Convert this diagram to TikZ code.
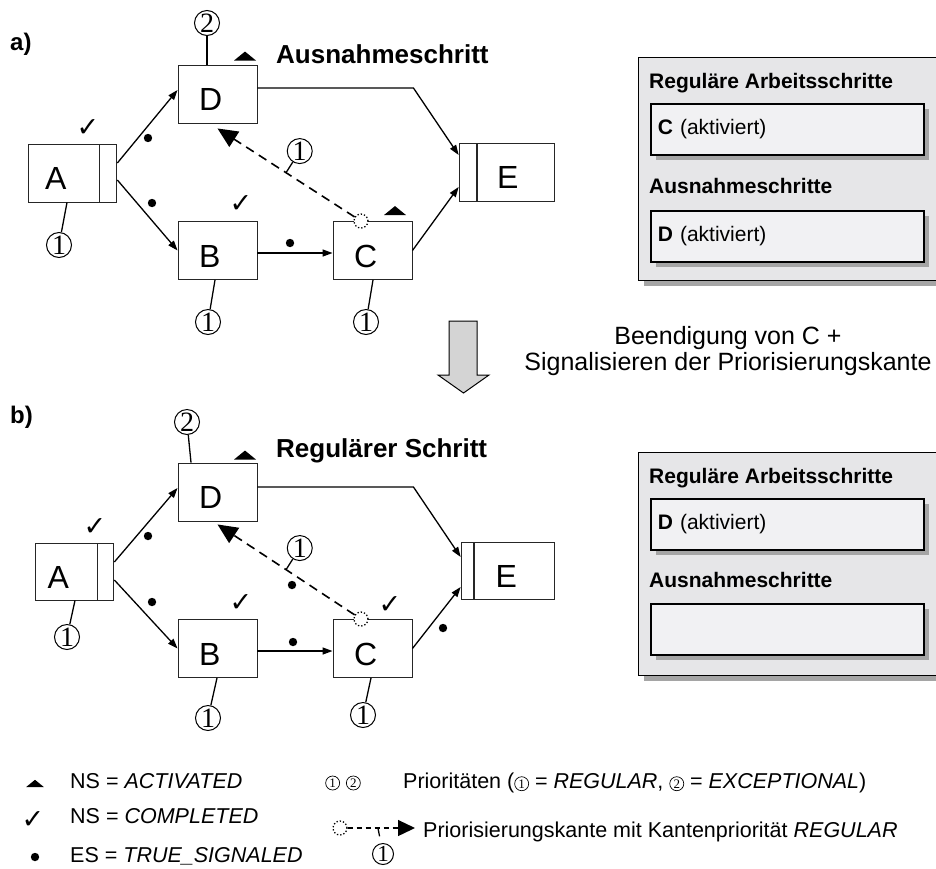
\documentclass[tikz,border=0pt]{standalone}
\usepackage{fontspec}
\setsansfont{Liberation Sans}
\newfontfamily\prioface{Liberation Serif}
\newfontfamily\symface{DejaVu Sans}
\usetikzlibrary{arrows.meta, calc, shadows}
\definecolor{panelbg}{RGB}{230,230,232}
\definecolor{slotbg}{RGB}{241,241,243}
\definecolor{shade}{RGB}{165,165,165}
\definecolor{arrowfill}{RGB}{212,212,212}
\newcommand{\fsz}[1]{\fontsize{#1}{#1}\selectfont}
% node state ACTIVATED
\newcommand{\nsmark}[2][1]{\fill #2 +({-11*#1},0) -- +({11*#1},0) -- +(0,{-9*#1}) -- cycle;}
% node state COMPLETED
\newcommand{\okmark}{{\symface ✓}}
% small circled priority inside text
\newcommand{\prionum}[1]{\tikz[baseline=(pn.base)]\node[circle, draw, line width=0.7pt, minimum size=14pt, inner sep=0pt, font=\prioface\fsz{13}] (pn) {#1};}

\begin{document}
\begin{tikzpicture}[x=1pt, y=-1pt,
    stepbox/.style={draw=black!85, line width=0.9pt, minimum height=58pt, inner sep=0pt,
                    font=\sffamily\fsz{32}, text height=33pt, text depth=0pt,
                    text width=37pt, align=left},
    barbox/.style={draw=black!85, line width=0.9pt, minimum width=17pt, minimum height=58pt, inner sep=0pt},
    flow/.style={-{Triangle[length=10pt,width=7pt]}, line width=1.3pt},
    prio/.style={dash pattern=on 9pt off 6pt, line width=1.6pt, -{Triangle[length=20pt,width=18pt]}},
    signal/.style={circle, draw, dotted, line width=1.3pt, minimum size=14pt, inner sep=0pt, fill=white},
    prionode/.style={circle, draw, line width=1pt, minimum size=25pt, inner sep=0pt, font=\prioface\fsz{28}},
    tie/.style={line width=1.3pt},
    done/.style={inner sep=0pt, font=\fsz{27}},
    title/.style={font=\sffamily\bfseries\fsz{26}, inner sep=0pt, anchor=base west},
    panel/.style={draw, line width=1.4pt, fill=panelbg, minimum width=310pt, minimum height=223pt,
                  anchor=north west, drop shadow={shadow xshift=5pt, shadow yshift=-5pt, fill=shade, opacity=1}},
    slot/.style={draw, line width=1.8pt, fill=slotbg, minimum width=273pt, minimum height=51pt,
                 anchor=north west, inner xsep=7pt, text width=259pt, align=left, font=\sffamily\fsz{21},
                 drop shadow={shadow xshift=5pt, shadow yshift=-5pt, fill=shade, opacity=1}},
    heading/.style={font=\sffamily\bfseries\fsz{21}, inner sep=0pt, anchor=base west},
    legend/.style={font=\sffamily\fsz{21.5}, inner sep=0pt, anchor=base west}]
    \useasboundingbox (0,0) rectangle (936,868);

    % a) before
    \node[title, font=\sffamily\bfseries\fsz{24}] (a-lbl) at (10,50) {a)};
    \node[stepbox, minimum width=71pt] (Aa) at (63.5,173) {A};
    \node[barbox, anchor=west] (Aa-bar) at (Aa.east) {};
    \node[stepbox, minimum width=79pt] (Da) at (217.5,94) {D};
    \node[stepbox, minimum width=79pt] (Ba) at (217.5,250.5) {B};
    \node[stepbox, minimum width=79pt] (Ca) at (372.5,250.5) {C};
    \node[stepbox, minimum width=77pt] (Ea) at (515.5,172) {E};
    \node[barbox, anchor=east] (Ea-bar) at (Ea.west) {};
    \node[title] (a-title) at (276,63) {Ausnahmeschritt};

    \draw[flow] ([yshift=10pt]Aa-bar.east) -- ([yshift=4pt]Da.west);
    \draw[flow] ([yshift=-7pt]Aa-bar.east) -- (Ba.west);
    \draw[flow] ([yshift=-2.5pt]Ba.east) -- ([yshift=-2.5pt]Ca.west);
    \draw[flow] (Ca.east) -- ([yshift=-15pt]Ea-bar.west);
    \draw[flow] ([yshift=6pt]Da.east) -- ++(156,0) -- ([yshift=17pt]Ea-bar.west);

    \node[signal] (Ca-sig) at ([xshift=-11.5pt]Ca.north) {};
    \draw[prio] (Ca-sig) -- coordinate[pos=0.5] (Ca-tick) ([yshift=-5pt]Da.south);
    \node[prionode] (Ca-tick-p) at ([shift={(13.7pt,21.6pt)}]Ca-tick) {1};
    \draw[tie] (Ca-tick) -- (Ca-tick-p);

    \node[prionode] (Da-p) at (207,23) {2};
    \draw[tie] ([xshift=-10.5pt]Da.north) -- (Da-p);
    \node[prionode] (Aa-p) at (59,245) {1};
    \draw[tie] ([xshift=3.5pt]Aa.south) -- (Aa-p);
    \node[prionode] (Ba-p) at (208,322) {1};
    \draw[tie] ([xshift=-2.5pt]Ba.south) -- (Ba-p);
    \node[prionode] (Ca-p) at (366,322) {1};
    \draw[tie] ([xshift=0.5pt]Ca.south) -- (Ca-p);

    \node[done] (Aa-ok) at (88,128) {\okmark};
    \node[done] (Ba-ok) at (241,204) {\okmark};
    \nsmark{([xshift=27.5pt,yshift=4pt]Da.north)}
    \nsmark{([xshift=22.5pt,yshift=6pt]Ca.north)}
    \fill (148,138) circle (4.2);
    \fill (152,203) circle (4.2);
    \fill (290,243) circle (4.2);

    \node[panel] (qa) at (638,57) {};
    \node[heading] (qa-reg-t) at ([shift={(11pt,-31.5pt)}]qa.north west) {Reguläre Arbeitsschritte};
    \node[slot] (qa-reg) at ([shift={(12pt,-46pt)}]qa.north west) {\textbf{C} (aktiviert)};
    \node[heading] (qa-exc-t) at ([shift={(11pt,-136pt)}]qa.north west) {Ausnahmeschritte};
    \node[slot] (qa-exc) at ([shift={(12pt,-153pt)}]qa.north west) {\textbf{D} (aktiviert)};

    % transition
    \draw[fill=arrowfill, line width=1pt] (449,321) -- (477,321) -- (477,375) -- (489,375)
        -- (463.5,393) -- (438,375) -- (449,375) -- cycle;
    \node[font=\sffamily\fsz{25}, align=center, inner sep=0pt] (trans) at (728,351)
        {Beendigung von C +\\[1pt]Signalisieren der Priorisierungskante};

    % b) after
    \node[title, font=\sffamily\bfseries\fsz{24}] (b-lbl) at (10,423) {b)};
    \node[stepbox, minimum width=62pt, minimum height=57pt] (Ab) at (66,571.5) {A};
    \node[barbox, anchor=west, minimum width=16pt, minimum height=57pt] (Ab-bar) at (Ab.east) {};
    \node[stepbox, minimum width=79pt] (Db) at (217.5,492) {D};
    \node[stepbox, minimum width=79pt] (Bb) at (217.5,648.5) {B};
    \node[stepbox, minimum width=79pt] (Cb) at (372.5,648.5) {C};
    \node[stepbox, minimum width=80pt, minimum height=57pt] (Eb) at (514,570.5) {E};
    \node[barbox, anchor=east, minimum width=12pt, minimum height=57pt] (Eb-bar) at (Eb.west) {};
    \node[title] (b-title) at (276,457) {Regulärer Schritt};

    \draw[flow] ([yshift=9.5pt]Ab-bar.east) -- ([yshift=4pt]Db.west);
    \draw[flow] ([yshift=-8.5pt]Ab-bar.east) -- (Bb.west);
    \draw[flow] ([yshift=-2.5pt]Bb.east) -- ([yshift=-2.5pt]Cb.west);
    \draw[flow] (Cb.east) -- ([yshift=-16.5pt]Eb-bar.west);
    \draw[flow] ([yshift=5pt]Db.east) -- ++(156,0) -- ([yshift=13.5pt]Eb-bar.west);

    \node[signal] (Cb-sig) at ([xshift=-11.5pt]Cb.north) {};
    \draw[prio] (Cb-sig) -- coordinate[pos=0.5] (Cb-tick) ([yshift=-3pt]Db.south);
    \node[prionode] (Cb-tick-p) at ([shift={(13.7pt,21.6pt)}]Cb-tick) {1};
    \draw[tie] (Cb-tick) -- (Cb-tick-p);

    \node[prionode] (Db-p) at (187,422) {2};
    \draw[tie] ([xshift=-26.5pt]Db.north) -- (Db-p);
    \node[prionode] (Ab-p) at (67,637) {1};
    \draw[tie] ([xshift=9pt]Ab.south) -- (Ab-p);
    \node[prionode] (Bb-p) at (208,718) {1};
    \draw[tie] ([xshift=-0.5pt]Bb.south) -- (Bb-p);
    \node[prionode] (Cb-p) at (363,715) {1};
    \draw[tie] ([xshift=-1.5pt]Cb.south) -- (Cb-p);

    \node[done] (Ab-ok) at (95,527) {\okmark};
    \node[done] (Bb-ok) at (241,603) {\okmark};
    \node[done] (Cb-ok) at (390,605) {\okmark};
    \nsmark{([xshift=27.5pt,yshift=3pt]Db.north)}
    \fill (148,536) circle (4.2);
    \fill (152,602) circle (4.2);
    \fill (293,642) circle (4.2);
    \fill (292,585) circle (4.2);
    \fill (443,628) circle (4.2);

    \node[panel] (qb) at (638,452) {};
    \node[heading] (qb-reg-t) at ([shift={(11pt,-31.5pt)}]qb.north west) {Reguläre Arbeitsschritte};
    \node[slot] (qb-reg) at ([shift={(12pt,-46pt)}]qb.north west) {\textbf{D} (aktiviert)};
    \node[heading] (qb-exc-t) at ([shift={(11pt,-135pt)}]qb.north west) {Ausnahmeschritte};
    \node[slot] (qb-exc) at ([shift={(12pt,-151pt)}]qb.north west) {};

    % legend
    \nsmark[0.8]{(35,787)}
    \node[legend] (lg-act) at (70,788) {NS = \textit{ACTIVATED}};
    \node[done] (lg-ok) at (33,820) {\okmark};
    \node[legend] (lg-com) at (70,823) {NS = \textit{COMPLETED}};
    \fill (35,857) circle (4.2);
    \node[legend] (lg-sig) at (70,862) {ES = \textit{TRUE\_SIGNALED}};
    \node[inner sep=0pt] (lg-nums) at (343,783) {\prionum{1}\hspace{6pt}\prionum{2}};
    \node[legend] (lg-prio) at (403,788) {Prioritäten (\prionum{1} = \textit{REGULAR}, \prionum{2} = \textit{EXCEPTIONAL})};
    \node[signal] (lg-src) at (340,828) {};
    \coordinate (lg-end) at (415,828);
    \draw[prio, dash pattern=on 5pt off 4pt, line width=1.3pt, -{Triangle[length=17pt,width=16pt]}]
        (lg-src) -- coordinate[pos=0.45] (lg-tick) (lg-end);
    \node[prionode, minimum size=21pt, font=\prioface\fsz{23}] (lg-p) at (383,854) {1};
    \draw[tie, shorten >=7pt] (lg-tick) -- (lg-p);
    \node[legend] (lg-edge) at (423,837) {Priorisierungskante mit Kantenpriorität \textit{REGULAR}};
\end{tikzpicture}
\end{document}
